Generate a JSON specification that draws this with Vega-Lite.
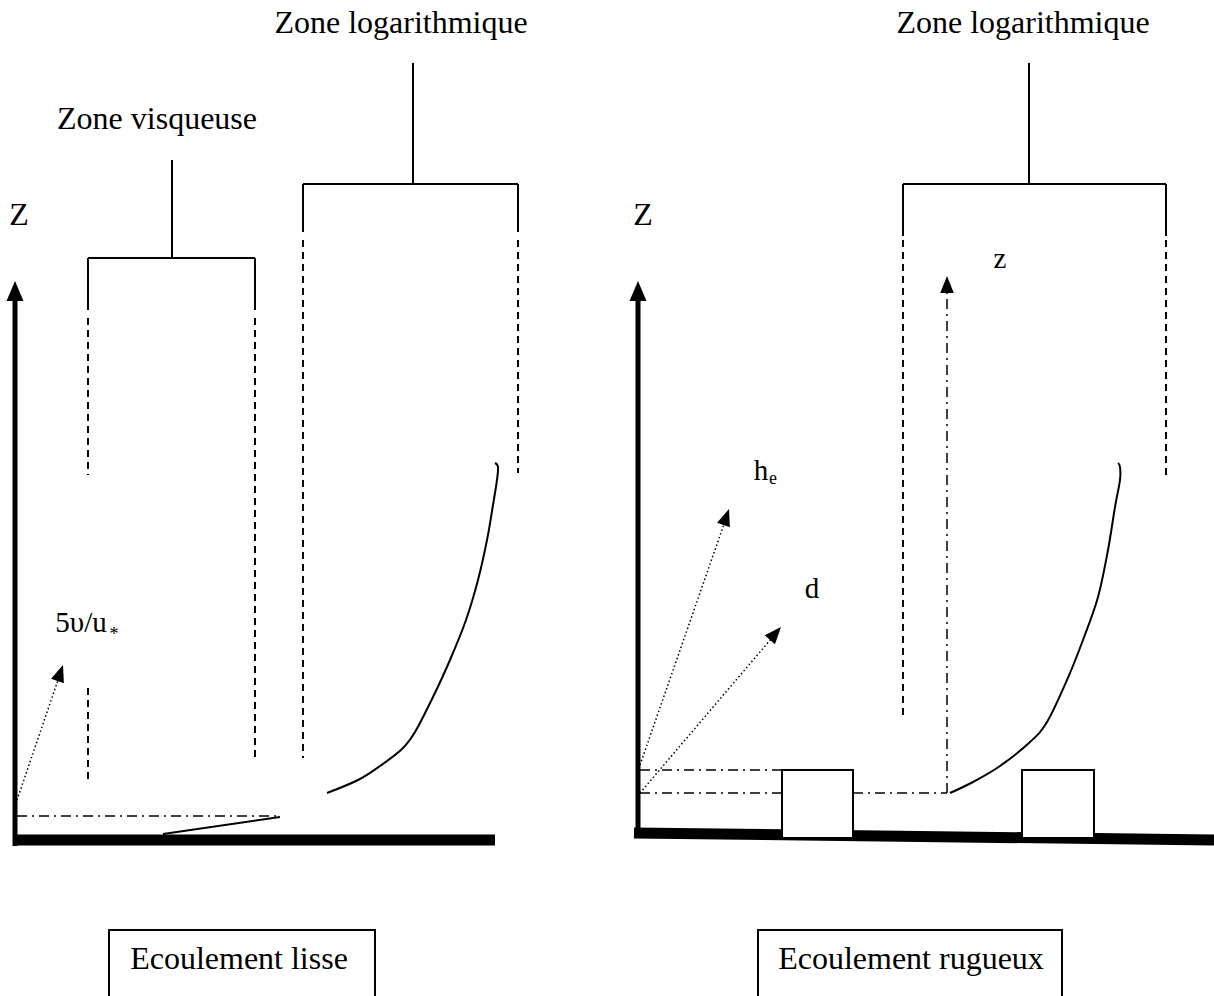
{
  "$schema": "https://vega.github.io/schema/vega-lite/v6.json",
  "autosize": {"type": "fit", "contains": "padding"},
  "width": 1214,
  "height": 996,
  "padding": 0,
  "background": "white",
  "config": {"view": {"stroke": null}},
  "datasets": {
    "segments": [
      {"kind": "axisv", "x": 15, "y": 846, "x2": 15, "y2": 298},
      {"kind": "axisv", "x": 638, "y": 838, "x2": 638, "y2": 298},
      {"kind": "axish", "x": 13, "y": 840, "x2": 495, "y2": 840},
      {"kind": "axish", "x": 634, "y": 833, "x2": 1214, "y2": 840},
      {"kind": "solid", "x": 172, "y": 160, "x2": 172, "y2": 258},
      {"kind": "solid", "x": 88, "y": 258, "x2": 255, "y2": 258},
      {"kind": "solid", "x": 88, "y": 258, "x2": 88, "y2": 310},
      {"kind": "solid", "x": 255, "y": 258, "x2": 255, "y2": 310},
      {"kind": "solid", "x": 413, "y": 63, "x2": 413, "y2": 184},
      {"kind": "solid", "x": 303, "y": 184, "x2": 518, "y2": 184},
      {"kind": "solid", "x": 303, "y": 184, "x2": 303, "y2": 232},
      {"kind": "solid", "x": 518, "y": 184, "x2": 518, "y2": 232},
      {"kind": "solid", "x": 163, "y": 834, "x2": 280, "y2": 817},
      {"kind": "solid", "x": 1029, "y": 63, "x2": 1029, "y2": 184},
      {"kind": "solid", "x": 903, "y": 184, "x2": 1166, "y2": 184},
      {"kind": "solid", "x": 903, "y": 184, "x2": 903, "y2": 236},
      {"kind": "solid", "x": 1166, "y": 184, "x2": 1166, "y2": 236},
      {"kind": "dashed", "x": 88, "y": 318, "x2": 88, "y2": 475},
      {"kind": "dashed", "x": 88, "y": 688, "x2": 88, "y2": 780},
      {"kind": "dashed", "x": 255, "y": 318, "x2": 255, "y2": 760},
      {"kind": "dashed", "x": 303, "y": 240, "x2": 303, "y2": 758},
      {"kind": "dashed", "x": 518, "y": 240, "x2": 518, "y2": 473},
      {"kind": "dashed", "x": 903, "y": 240, "x2": 903, "y2": 715},
      {"kind": "dashed", "x": 1166, "y": 240, "x2": 1166, "y2": 475},
      {"kind": "dashdot", "x": 17, "y": 816, "x2": 280, "y2": 816},
      {"kind": "dashdot", "x": 640, "y": 770, "x2": 782, "y2": 770},
      {"kind": "dashdot", "x": 640, "y": 793, "x2": 782, "y2": 793},
      {"kind": "dashdot", "x": 853, "y": 793, "x2": 947, "y2": 793},
      {"kind": "dashdot", "x": 947, "y": 793, "x2": 947, "y2": 292},
      {"kind": "dotted", "x": 17, "y": 800, "x2": 58, "y2": 680},
      {"kind": "dotted", "x": 640, "y": 765, "x2": 724, "y2": 524},
      {"kind": "dotted", "x": 640, "y": 793, "x2": 771, "y2": 639}
    ],
    "curves": [
      {"side": "lisse", "o": 1, "x": 495, "y": 463},
      {"side": "lisse", "o": 2, "x": 498, "y": 467},
      {"side": "lisse", "o": 3, "x": 497, "y": 480},
      {"side": "lisse", "o": 4, "x": 493, "y": 505},
      {"side": "lisse", "o": 5, "x": 487, "y": 540},
      {"side": "lisse", "o": 6, "x": 478, "y": 580},
      {"side": "lisse", "o": 7, "x": 466, "y": 620},
      {"side": "lisse", "o": 8, "x": 450, "y": 660},
      {"side": "lisse", "o": 9, "x": 433, "y": 697},
      {"side": "lisse", "o": 10, "x": 415, "y": 732},
      {"side": "lisse", "o": 11, "x": 402, "y": 749},
      {"side": "lisse", "o": 12, "x": 380, "y": 766},
      {"side": "lisse", "o": 13, "x": 358, "y": 780},
      {"side": "lisse", "o": 14, "x": 327, "y": 793},
      {"side": "rugueux", "o": 1, "x": 1118, "y": 463},
      {"side": "rugueux", "o": 2, "x": 1120, "y": 467},
      {"side": "rugueux", "o": 3, "x": 1120, "y": 480},
      {"side": "rugueux", "o": 4, "x": 1115, "y": 507},
      {"side": "rugueux", "o": 5, "x": 1108, "y": 550},
      {"side": "rugueux", "o": 6, "x": 1098, "y": 597},
      {"side": "rugueux", "o": 7, "x": 1083, "y": 640},
      {"side": "rugueux", "o": 8, "x": 1067, "y": 680},
      {"side": "rugueux", "o": 9, "x": 1047, "y": 722},
      {"side": "rugueux", "o": 10, "x": 1030, "y": 742},
      {"side": "rugueux", "o": 11, "x": 1000, "y": 766},
      {"side": "rugueux", "o": 12, "x": 973, "y": 782},
      {"side": "rugueux", "o": 13, "x": 950, "y": 793}
    ],
    "boxes": [
      {"kind": "rough", "x": 782, "y": 770, "x2": 853, "y2": 838},
      {"kind": "rough", "x": 1022, "y": 770, "x2": 1094, "y2": 838},
      {"kind": "frame", "x": 109, "y": 930, "x2": 375, "y2": 1010},
      {"kind": "frame", "x": 758, "y": 930, "x2": 1062, "y2": 1010}
    ],
    "arrows": [
      {"kind": "axis", "x": 15, "y": 281, "angle": 0},
      {"kind": "axis", "x": 638, "y": 281, "angle": 0},
      {"kind": "thin", "x": 947, "y": 276, "angle": 0},
      {"kind": "thin", "x": 63, "y": 665, "angle": 19},
      {"kind": "thin", "x": 729, "y": 509, "angle": 19},
      {"kind": "thin", "x": 781, "y": 627, "angle": 41}
    ],
    "labels": [
      {"kind": "big", "text": "Zone logarithmique", "x": 401, "y": 33},
      {"kind": "big", "text": "Zone logarithmique", "x": 1023, "y": 33},
      {"kind": "big", "text": "Zone visqueuse", "x": 157, "y": 129},
      {"kind": "big", "text": "Z", "x": 19, "y": 225},
      {"kind": "big", "text": "Z", "x": 643, "y": 225},
      {"kind": "big", "text": "Ecoulement lisse", "x": 239, "y": 969},
      {"kind": "big", "text": "Ecoulement rugueux", "x": 911, "y": 969},
      {"kind": "mid", "text": "5υ/u", "x": 81, "y": 632},
      {"kind": "mid", "text": "h", "x": 761, "y": 480},
      {"kind": "mid", "text": "d", "x": 812, "y": 598},
      {"kind": "mid", "text": "z", "x": 1000, "y": 268},
      {"kind": "sub", "text": "*", "x": 114, "y": 640},
      {"kind": "sub", "text": "e", "x": 773, "y": 484}
    ]
  },
  "layer": [
    {
      "data": {"name": "segments"},
      "transform": [{"filter": "datum.kind === 'axish'"}],
      "mark": {"type": "rule", "strokeWidth": 11, "color": "black", "strokeCap": "butt", "clip": true},
      "encoding": {
        "x": {"field": "x", "type": "quantitative", "scale": {"domain": [0, 1214], "nice": false, "zero": false}, "axis": null},
        "y": {"field": "y", "type": "quantitative", "scale": {"domain": [0, 996], "nice": false, "zero": false, "reverse": true}, "axis": null},
        "x2": {"field": "x2"},
        "y2": {"field": "y2"}
      }
    },
    {
      "data": {"name": "segments"},
      "transform": [{"filter": "datum.kind === 'axisv'"}],
      "mark": {"type": "rule", "strokeWidth": 5, "color": "black", "strokeCap": "butt"},
      "encoding": {
        "x": {"field": "x", "type": "quantitative", "scale": {"domain": [0, 1214], "nice": false, "zero": false}, "axis": null},
        "y": {"field": "y", "type": "quantitative", "scale": {"domain": [0, 996], "nice": false, "zero": false, "reverse": true}, "axis": null},
        "x2": {"field": "x2"},
        "y2": {"field": "y2"}
      }
    },
    {
      "data": {"name": "segments"},
      "transform": [{"filter": "datum.kind === 'solid'"}],
      "mark": {"type": "rule", "strokeWidth": 2, "color": "black"},
      "encoding": {
        "x": {"field": "x", "type": "quantitative", "scale": {"domain": [0, 1214], "nice": false, "zero": false}, "axis": null},
        "y": {"field": "y", "type": "quantitative", "scale": {"domain": [0, 996], "nice": false, "zero": false, "reverse": true}, "axis": null},
        "x2": {"field": "x2"},
        "y2": {"field": "y2"}
      }
    },
    {
      "data": {"name": "segments"},
      "transform": [{"filter": "datum.kind === 'dashed'"}],
      "mark": {"type": "rule", "strokeWidth": 2, "color": "black", "strokeDash": [7, 5]},
      "encoding": {
        "x": {"field": "x", "type": "quantitative", "scale": {"domain": [0, 1214], "nice": false, "zero": false}, "axis": null},
        "y": {"field": "y", "type": "quantitative", "scale": {"domain": [0, 996], "nice": false, "zero": false, "reverse": true}, "axis": null},
        "x2": {"field": "x2"},
        "y2": {"field": "y2"}
      }
    },
    {
      "data": {"name": "segments"},
      "transform": [{"filter": "datum.kind === 'dashdot'"}],
      "mark": {"type": "rule", "strokeWidth": 1.5, "color": "black", "strokeDash": [10, 5, 2, 5]},
      "encoding": {
        "x": {"field": "x", "type": "quantitative", "scale": {"domain": [0, 1214], "nice": false, "zero": false}, "axis": null},
        "y": {"field": "y", "type": "quantitative", "scale": {"domain": [0, 996], "nice": false, "zero": false, "reverse": true}, "axis": null},
        "x2": {"field": "x2"},
        "y2": {"field": "y2"}
      }
    },
    {
      "data": {"name": "segments"},
      "transform": [{"filter": "datum.kind === 'dotted'"}],
      "mark": {"type": "rule", "strokeWidth": 1.5, "color": "black", "strokeDash": [1.5, 2.5]},
      "encoding": {
        "x": {"field": "x", "type": "quantitative", "scale": {"domain": [0, 1214], "nice": false, "zero": false}, "axis": null},
        "y": {"field": "y", "type": "quantitative", "scale": {"domain": [0, 996], "nice": false, "zero": false, "reverse": true}, "axis": null},
        "x2": {"field": "x2"},
        "y2": {"field": "y2"}
      }
    },
    {
      "data": {"name": "curves"},
      "mark": {"type": "line", "strokeWidth": 2, "color": "black", "interpolate": "cardinal"},
      "encoding": {
        "x": {"field": "x", "type": "quantitative", "scale": {"domain": [0, 1214], "nice": false, "zero": false}, "axis": null},
        "y": {"field": "y", "type": "quantitative", "scale": {"domain": [0, 996], "nice": false, "zero": false, "reverse": true}, "axis": null},
        "detail": {"field": "side"},
        "order": {"field": "o", "type": "quantitative"}
      }
    },
    {
      "data": {"name": "boxes"},
      "transform": [{"filter": "datum.kind === 'rough'"}],
      "mark": {"type": "rect", "fill": "white", "stroke": "black", "strokeWidth": 2},
      "encoding": {
        "x": {"field": "x", "type": "quantitative", "scale": {"domain": [0, 1214], "nice": false, "zero": false}, "axis": null},
        "y": {"field": "y", "type": "quantitative", "scale": {"domain": [0, 996], "nice": false, "zero": false, "reverse": true}, "axis": null},
        "x2": {"field": "x2"},
        "y2": {"field": "y2"}
      }
    },
    {
      "data": {"name": "boxes"},
      "transform": [{"filter": "datum.kind === 'frame'"}],
      "mark": {"type": "rect", "fill": null, "fillOpacity": 0, "stroke": "black", "strokeWidth": 2, "clip": true},
      "encoding": {
        "x": {"field": "x", "type": "quantitative", "scale": {"domain": [0, 1214], "nice": false, "zero": false}, "axis": null},
        "y": {"field": "y", "type": "quantitative", "scale": {"domain": [0, 996], "nice": false, "zero": false, "reverse": true}, "axis": null},
        "x2": {"field": "x2"},
        "y2": {"field": "y2"}
      }
    },
    {
      "data": {"name": "arrows"},
      "transform": [{"filter": "datum.kind === 'axis'"}],
      "mark": {"type": "point", "shape": "M0,0L-0.85,2L0.85,2Z", "filled": true, "color": "black", "opacity": 1, "size": 400},
      "encoding": {
        "x": {"field": "x", "type": "quantitative", "scale": {"domain": [0, 1214], "nice": false, "zero": false}, "axis": null},
        "y": {"field": "y", "type": "quantitative", "scale": {"domain": [0, 996], "nice": false, "zero": false, "reverse": true}, "axis": null},
        "angle": {"field": "angle", "type": "quantitative", "scale": null}
      }
    },
    {
      "data": {"name": "arrows"},
      "transform": [{"filter": "datum.kind === 'thin'"}],
      "mark": {"type": "point", "shape": "M0,0L-0.8,2L0.8,2Z", "filled": true, "color": "black", "opacity": 1, "size": 289},
      "encoding": {
        "x": {"field": "x", "type": "quantitative", "scale": {"domain": [0, 1214], "nice": false, "zero": false}, "axis": null},
        "y": {"field": "y", "type": "quantitative", "scale": {"domain": [0, 996], "nice": false, "zero": false, "reverse": true}, "axis": null},
        "angle": {"field": "angle", "type": "quantitative", "scale": null}
      }
    },
    {
      "data": {"name": "labels"},
      "transform": [{"filter": "datum.kind === 'big'"}],
      "mark": {"type": "text", "font": "Liberation Serif", "fontSize": 32, "color": "black", "align": "center", "baseline": "alphabetic"},
      "encoding": {
        "x": {"field": "x", "type": "quantitative", "scale": {"domain": [0, 1214], "nice": false, "zero": false}, "axis": null},
        "y": {"field": "y", "type": "quantitative", "scale": {"domain": [0, 996], "nice": false, "zero": false, "reverse": true}, "axis": null},
        "text": {"field": "text"}
      }
    },
    {
      "data": {"name": "labels"},
      "transform": [{"filter": "datum.kind === 'mid'"}],
      "mark": {"type": "text", "font": "Liberation Serif", "fontSize": 29, "color": "black", "align": "center", "baseline": "alphabetic"},
      "encoding": {
        "x": {"field": "x", "type": "quantitative", "scale": {"domain": [0, 1214], "nice": false, "zero": false}, "axis": null},
        "y": {"field": "y", "type": "quantitative", "scale": {"domain": [0, 996], "nice": false, "zero": false, "reverse": true}, "axis": null},
        "text": {"field": "text"}
      }
    },
    {
      "data": {"name": "labels"},
      "transform": [{"filter": "datum.kind === 'sub'"}],
      "mark": {"type": "text", "font": "Liberation Serif", "fontSize": 18, "color": "black", "align": "center", "baseline": "alphabetic"},
      "encoding": {
        "x": {"field": "x", "type": "quantitative", "scale": {"domain": [0, 1214], "nice": false, "zero": false}, "axis": null},
        "y": {"field": "y", "type": "quantitative", "scale": {"domain": [0, 996], "nice": false, "zero": false, "reverse": true}, "axis": null},
        "text": {"field": "text"}
      }
    }
  ]
}
